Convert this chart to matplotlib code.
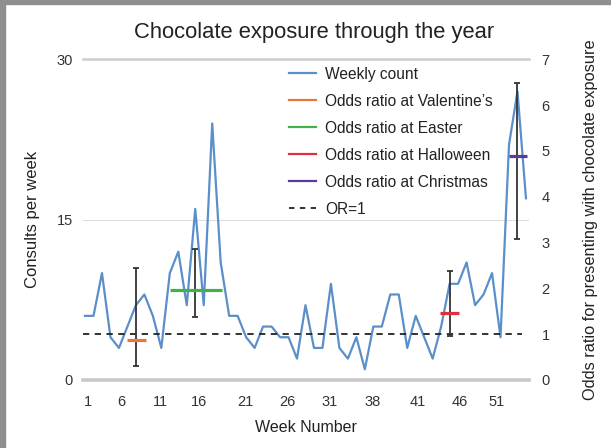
import matplotlib
matplotlib.use("Agg")
import matplotlib.pyplot as plt
from matplotlib.lines import Line2D
from matplotlib.patches import Rectangle

plt.rcParams["font.family"] = ["Liberation Sans", "DejaVu Sans"]

weeks = list(range(1, 54))
weekly_count = [6, 6, 10, 4, 3, 5, 7, 8, 6, 3,
                10, 12, 7, 16, 7, 24, 11, 6, 6, 4,
                3, 5, 5, 4, 4, 2, 7, 3, 3, 9,
                3, 2, 4, 1, 5, 5, 8, 8, 3, 6,
                4, 2, 5, 9, 9, 11, 7, 8, 10, 4,
                22, 27, 17]

holidays = ["Valentine\u2019s", "Easter", "Halloween", "Christmas"]
holiday_colors = ["#e8773a", "#45b04a", "#e0303c", "#5a3c98"]
holiday_week = [7, 14, 44, 52]
odds_ratio = [0.87, 1.97, 1.47, 4.88]
ci_low = [0.31, 1.37, 0.97, 3.07]
ci_high = [2.44, 2.87, 2.38, 6.48]
span_start = [5.9, 11, 42.9, 51]
span_end = [8.2, 17.1, 45.1, 53.1]

tick_labels = ["1", "6", "11", "16", "21", "26", "31", "38", "41", "46", "51"]
tick_pos = [1.4, 5.3, 9.9, 14.4, 19.9, 24.9, 29.9, 34.9, 40.2, 45.2, 49.5]

blue = "#5b8fca"
txt = "#222222"

fig = plt.figure(figsize=(6.11, 4.48), dpi=100)
ax = fig.add_axes([0.1354, 0.1518, 0.7304, 0.7158])
ax2 = ax.twinx()

# grid lines drawn by hand so the baseline can be heavier
ax.axhline(0, color="#c8c8c8", lw=2.6, clip_on=False, zorder=1)
ax.axhline(15, color="#dddddd", lw=0.8, zorder=1)
ax.axhline(30, color="#cdcdcd", lw=1.8, clip_on=False, zorder=1)

ax.plot(weeks, weekly_count, color=blue, lw=1.6, zorder=3)

ax2.hlines(1, 0.75, 52.5, colors="#222222", linestyles=(0, (3.5, 3)), lw=1.3)
ax2.errorbar(holiday_week, odds_ratio,
             yerr=[[o - l for o, l in zip(odds_ratio, ci_low)],
                   [h - o for o, h in zip(odds_ratio, ci_high)]],
             fmt="none", ecolor="#333333", elinewidth=1.3, capsize=2.5, capthick=1.3)
for i in range(len(holidays)):
    ax2.hlines(odds_ratio[i], span_start[i], span_end[i],
               colors=holiday_colors[i], lw=2.3)

ax.set_xlim(0.73, 53.36)
ax.set_ylim(0, 30)
ax2.set_ylim(0, 7)
ax.set_yticks([0, 15, 30])
ax2.set_yticks(range(0, 8))
ax.set_xticks(tick_pos)
ax.set_xticklabels(tick_labels)

for a in (ax, ax2):
    for s in a.spines.values():
        s.set_visible(False)
    a.tick_params(length=0, labelsize=10.5, labelcolor="#333333")
ax.tick_params(axis="y", pad=7)
ax.tick_params(axis="x", pad=11)
ax2.tick_params(axis="y", pad=9)

ax.set_xlabel("Week Number", fontsize=11.5, color=txt, labelpad=8)
ax.set_ylabel("Consults per week", fontsize=12, color=txt, labelpad=12)
ax2.set_ylabel("Odds ratio for presenting with chocolate exposure",
               fontsize=11.8, color=txt, labelpad=24)
fig.text(0.514, 0.927, "Chocolate exposure through the year",
         ha="center", va="center", fontsize=15.8, color=txt)

handles = [Line2D([], [], color=blue, lw=1.6)]
labels = ["Weekly count"]
for name, c in zip(holidays, holiday_colors):
    handles.append(Line2D([], [], color=c, lw=1.6))
    labels.append("Odds ratio at " + name)
handles.append(Line2D([], [], color="#222222", lw=1.3, linestyle=(0, (3, 3))))
labels.append("OR=1")
ax2.legend(handles, labels, loc="upper left", bbox_to_anchor=(0.462, 0.977),
           frameon=False, fontsize=11.2, handlelength=1.75, handletextpad=0.6,
           labelspacing=0.77, borderpad=0, borderaxespad=0, labelcolor=txt)

# grey frame along the top and left edges
fig.patches.append(Rectangle((0, 0.99), 1, 0.01, transform=fig.transFigure,
                             color="#8f8f8f", zorder=0))
fig.patches.append(Rectangle((0, 0), 0.0085, 1, transform=fig.transFigure,
                             color="#8f8f8f", zorder=0))

fig.savefig("out.png", dpi=100)
